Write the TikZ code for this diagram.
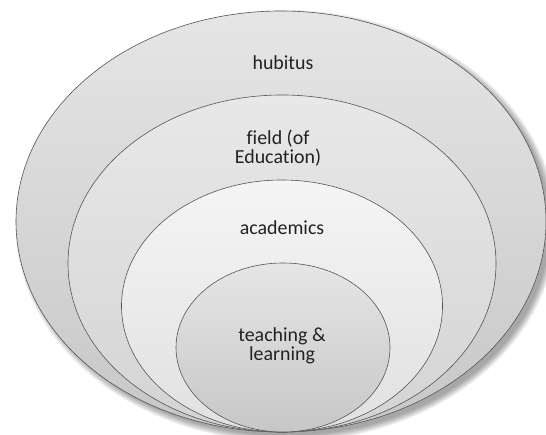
\documentclass[tikz,border=0pt]{standalone}
\usepackage{fontspec}
\setmainfont[Ligatures=NoCommon]{Carlito}
\usetikzlibrary{shapes.geometric}
\definecolor{edge}{HTML}{555555}
\definecolor{txt}{HTML}{222222}
\tikzset{
  ring/.style={ellipse, draw=edge, line width=0.6bp, inner sep=0pt},
  lbl/.style={text=txt, font=\fontsize{20}{19}\selectfont, align=center, inner sep=0pt},
  shade/.style={fill=black, draw=none, ellipse, inner sep=0pt}
}
\begin{document}
\begin{tikzpicture}[x=1bp,y=-1bp]
\useasboundingbox (0,0) rectangle (546,435);
\fill[white] (0,0) rectangle (546,435);
% soft shadow
\foreach \i in {1,...,10}{
  \node[shade, opacity=0.04, minimum width={528+1.5*\i bp}, minimum height={419+1.5*\i bp}] at (286,226) {};
}
\node[ring, minimum width=530bp, minimum height=421bp, top color=white!90!black, bottom color=white!78!black] (hab) at (281,221.5) {};
\node[ring, minimum width=428bp, minimum height=337bp, top color=white!91!black, bottom color=white!83!black] (fld) at (282,263.5) {};
\node[ring, minimum width=321bp, minimum height=252bp, top color=white!96!black, bottom color=white!88!black] (aca) at (282,306) {};
\node[ring, minimum width=214bp, minimum height=169bp, top color=white!90!black, bottom color=white!78!black] (tea) at (283,347.5) {};
\node[lbl] (t1) at (283,63) {hubitus};
\node[lbl] (t2) at (278,148) {field (of\\Education)};
\node[lbl] (t3) at (282,228) {academics};
\node[lbl] (t4) at (282,346) {teaching \&\\learning};
\end{tikzpicture}
\end{document}
